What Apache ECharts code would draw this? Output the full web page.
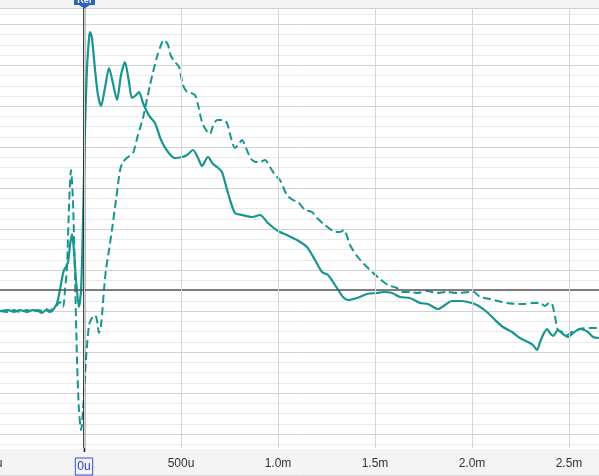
<!DOCTYPE html>
<html>
<head>
<meta charset="utf-8">
<script src="https://cdn.jsdelivr.net/npm/echarts@6/dist/echarts.min.js"></script>
<style>html,body{margin:0;padding:0;background:#fff}#c{width:599px;height:476px}</style>
</head>
<body>
<div id="c"></div>
<script>
// time in microseconds, amplitude in % (arbitrary scale)
const solidSeries = [[-433,-8.7],[-392,-8.3],[-361,-9.1],[-330,-8.3],[-294,-9.1],[-263,-8.3],[-237,-8.7],[-217,-9.5],[-196,-8.3],[-175,-9.1],[-160,-8.3],[-139,-5.5],[-124,-0.3],[-113,4.5],[-103,7.7],[-93,8.9],[-82,10.9],[-72,17.7],[-62,22.1],[-52,15.7],[-41,3.7],[-26,-7.1],[-15,-0.3],[-5,27.7],[5,63.7],[15,87.7],[26,100.5],[31,102.9],[41,100.5],[57,87.7],[72,77.7],[88,73.3],[108,80.5],[129,88.5],[149,82.5],[170,75.7],[191,85.7],[211,90.9],[232,82.9],[247,76.5],[268,77.7],[284,78.9],[304,74.5],[325,70.9],[340,68.9],[366,66.5],[397,59.7],[433,54.9],[469,52.5],[505,52.9],[531,53.7],[562,55.7],[588,52.5],[608,49.3],[639,52.9],[665,50.1],[686,48.9],[711,46.9],[742,38.5],[778,30.5],[814,29.7],[866,28.9],[907,29.7],[948,26.5],[1000,23.3],[1046,21.7],[1098,19.7],[1149,16.9],[1191,11.7],[1227,6.9],[1258,5.7],[1304,0.5],[1335,-3.1],[1361,-4.3],[1407,-3.5],[1459,-1.9],[1510,-1.5],[1546,-1.1],[1588,-1.5],[1629,-3.1],[1680,-3.5],[1732,-5.5],[1773,-5.9],[1825,-7.9],[1861,-6.3],[1897,-4.7],[1938,-4.7],[1979,-5.1],[2026,-6.3],[2077,-9.1],[2119,-12.3],[2160,-15.1],[2206,-17.1],[2247,-19.5],[2289,-21.1],[2314,-22.3],[2335,-24.3],[2351,-21.1],[2366,-18.3],[2387,-15.9],[2402,-17.5],[2418,-18.7],[2443,-16.3],[2469,-17.9],[2495,-19.1],[2521,-17.5],[2557,-15.9],[2598,-17.1],[2624,-19.1],[2655,-19.5]];

const dashedSeries = [[-433,-8.7],[-392,-9.1],[-361,-8.3],[-330,-9.1],[-294,-8.3],[-263,-9.1],[-237,-8.3],[-217,-8.7],[-196,-7.9],[-175,-8.7],[-165,-7.9],[-139,-6.3],[-124,-5.1],[-108,-7.1],[-98,-0.3],[-88,8.5],[-77,33.7],[-67,47.7],[-57,35.7],[-46,3.7],[-36,-28.3],[-26,-48.3],[-15,-56.3],[-5,-48.3],[10,-28.3],[26,-14.3],[41,-11.5],[57,-10.3],[67,-12.3],[77,-17.5],[88,-14.3],[103,-0.3],[113,7.7],[129,15.7],[144,23.7],[165,35.7],[186,47.7],[201,50.9],[227,52.9],[253,54.5],[278,61.7],[304,68.5],[340,81.7],[376,92.9],[397,97.7],[412,99.7],[433,97.7],[448,93.3],[469,90.9],[490,88.9],[510,81.7],[531,78.9],[552,78.5],[572,77.7],[588,73.7],[608,66.9],[629,63.7],[649,62.1],[665,65.3],[686,67.7],[716,67.7],[737,66.5],[758,60.5],[778,56.5],[794,57.7],[814,59.7],[835,56.5],[861,52.1],[887,50.9],[907,50.9],[933,51.7],[959,48.9],[985,45.7],[1010,43.7],[1046,37.7],[1077,35.7],[1103,34.9],[1139,31.7],[1175,30.9],[1201,28.5],[1242,25.7],[1284,23.3],[1320,22.9],[1340,23.7],[1371,17.7],[1407,13.3],[1443,10.1],[1485,6.9],[1526,4.1],[1567,1.7],[1613,0.5],[1644,-1.1],[1680,-1.1],[1716,-1.5],[1768,-0.7],[1820,-1.5],[1871,-1.1],[1923,-1.5],[1990,-1.1],[2010,-1.1],[2041,-3.1],[2093,-3.9],[2180,-5.5],[2263,-5.9],[2314,-5.5],[2351,-5.5],[2376,-6.7],[2397,-5.5],[2413,-5.9],[2428,-11.1],[2443,-16.3],[2464,-17.1],[2490,-18.3],[2515,-17.1],[2557,-15.9],[2608,-15.5],[2655,-15.5]];

const xTickValues = [-500, 0, 500, 1000, 1500, 2000, 2500, 3000];
const xTickLabels = ['-500u', '0u', '500u', '1.0m', '1.5m', '2.0m', '2.5m', '3.0m'];
const refTime = 0;

const teal = '#17968f';
const chart = echarts.init(document.getElementById('c'), null, {renderer: 'canvas'});
chart.setOption({
  animation: false,
  backgroundColor: '#ffffff',
  grid: [
    {left: -13, right: -67, top: 8, bottom: 28, containLabel: false, outerBoundsMode: 'none'},
    {left: 0, right: 0, top: -16.67, bottom: 1.03, containLabel: false, outerBoundsMode: 'none'}
  ],
  xAxis: [
    {
      type: 'value', gridIndex: 0, min: -500, max: 3000, interval: 500, z: 10,
      axisLine: {show: false}, axisTick: {show: false},
      splitLine: {show: true, lineStyle: {color: '#d6d6d6', width: 1}},
      axisLabel: {
        margin: 10, color: '#333', fontSize: 12, fontFamily: 'Liberation Sans, Arial, sans-serif',
        showMinLabel: true, showMaxLabel: true, hideOverlap: false,
        formatter: function (v) {
          const i = xTickValues.indexOf(v);
          if (i < 0) return '';
          return v === refTime ? '{ref|' + xTickLabels[i] + '}' : xTickLabels[i];
        },
        rich: {ref: {borderColor: '#3a4ee0', borderWidth: 1, padding: [3, 2, 2, 2], color: '#2a3ad0', fontSize: 12, fontFamily: 'Liberation Sans, Arial, sans-serif'}}
      }
    },
    {type: 'value', gridIndex: 1, min: 0, max: 1, show: false}
  ],
  yAxis: [
    {type: 'value', gridIndex: 0, min: -63.5, max: 112.5, show: false},
    {
      type: 'value', gridIndex: 1, min: 0, max: 12, interval: 1,
      axisLine: {show: false}, axisTick: {show: false}, axisLabel: {show: false},
      splitLine: {show: true, lineStyle: {color: '#d2d2d2', width: 1}},
      minorTick: {show: false, splitNumber: 4},
      minorSplitLine: {show: true, lineStyle: {color: '#e9e9e9', width: 1}}
    }
  ],
  series: [
    {
      type: 'line', xAxisIndex: 0, yAxisIndex: 0, data: dashedSeries, showSymbol: false, smooth: 0.25,
      lineStyle: {color: teal, width: 2, type: [8, 4]}, z: 3
    },
    {
      type: 'line', xAxisIndex: 0, yAxisIndex: 0, data: solidSeries, showSymbol: false, smooth: 0.25,
      lineStyle: {color: teal, width: 2.2}, z: 4,
      markLine: {
        silent: true, symbol: 'none', label: {show: false}, animation: false,
        data: [
          {yAxis: 0, lineStyle: {color: '#555', width: 1.5, type: 'solid'}},
          {xAxis: refTime, lineStyle: {color: '#222', width: 1.5, type: 'solid'}}
        ]
      }
    }
  ],
  graphic: [
    {type: 'rect', z: 5, shape: {x: 0, y: 0, width: 599, height: 8}, style: {fill: '#f3f3f3'}},
    {type: 'line', z: 5, shape: {x1: 0, y1: 8.5, x2: 599, y2: 8.5}, style: {stroke: '#cfcfcf', lineWidth: 1}},
    {type: 'rect', z: 5, shape: {x: 0, y: 449, width: 599, height: 27}, style: {fill: '#f4f4f4'}},
    {type: 'line', z: 5, shape: {x1: 0, y1: 475.5, x2: 599, y2: 475.5}, style: {stroke: '#d8d8d8', lineWidth: 1}},
    {type: 'line', z: 6, shape: {x1: 84.5, y1: 4, x2: 84.5, y2: 452}, style: {stroke: '#222', lineWidth: 1.6}},
    {type: 'rect', z: 20, shape: {x: 74, y: -4, width: 21, height: 9}, style: {fill: '#2d63be'}},
    {type: 'polygon', z: 20, shape: {points: [[79, 5], [90, 5], [84.5, 8.5]]}, style: {fill: '#2d63be'}},
    {type: 'text', z: 21, x: 84.5, y: 1, style: {text: 'Ref', fill: '#fff', font: 'bold 9px Liberation Sans, Arial, sans-serif', align: 'center', verticalAlign: 'middle'}}
  ]
});
</script>
</body>
</html>
